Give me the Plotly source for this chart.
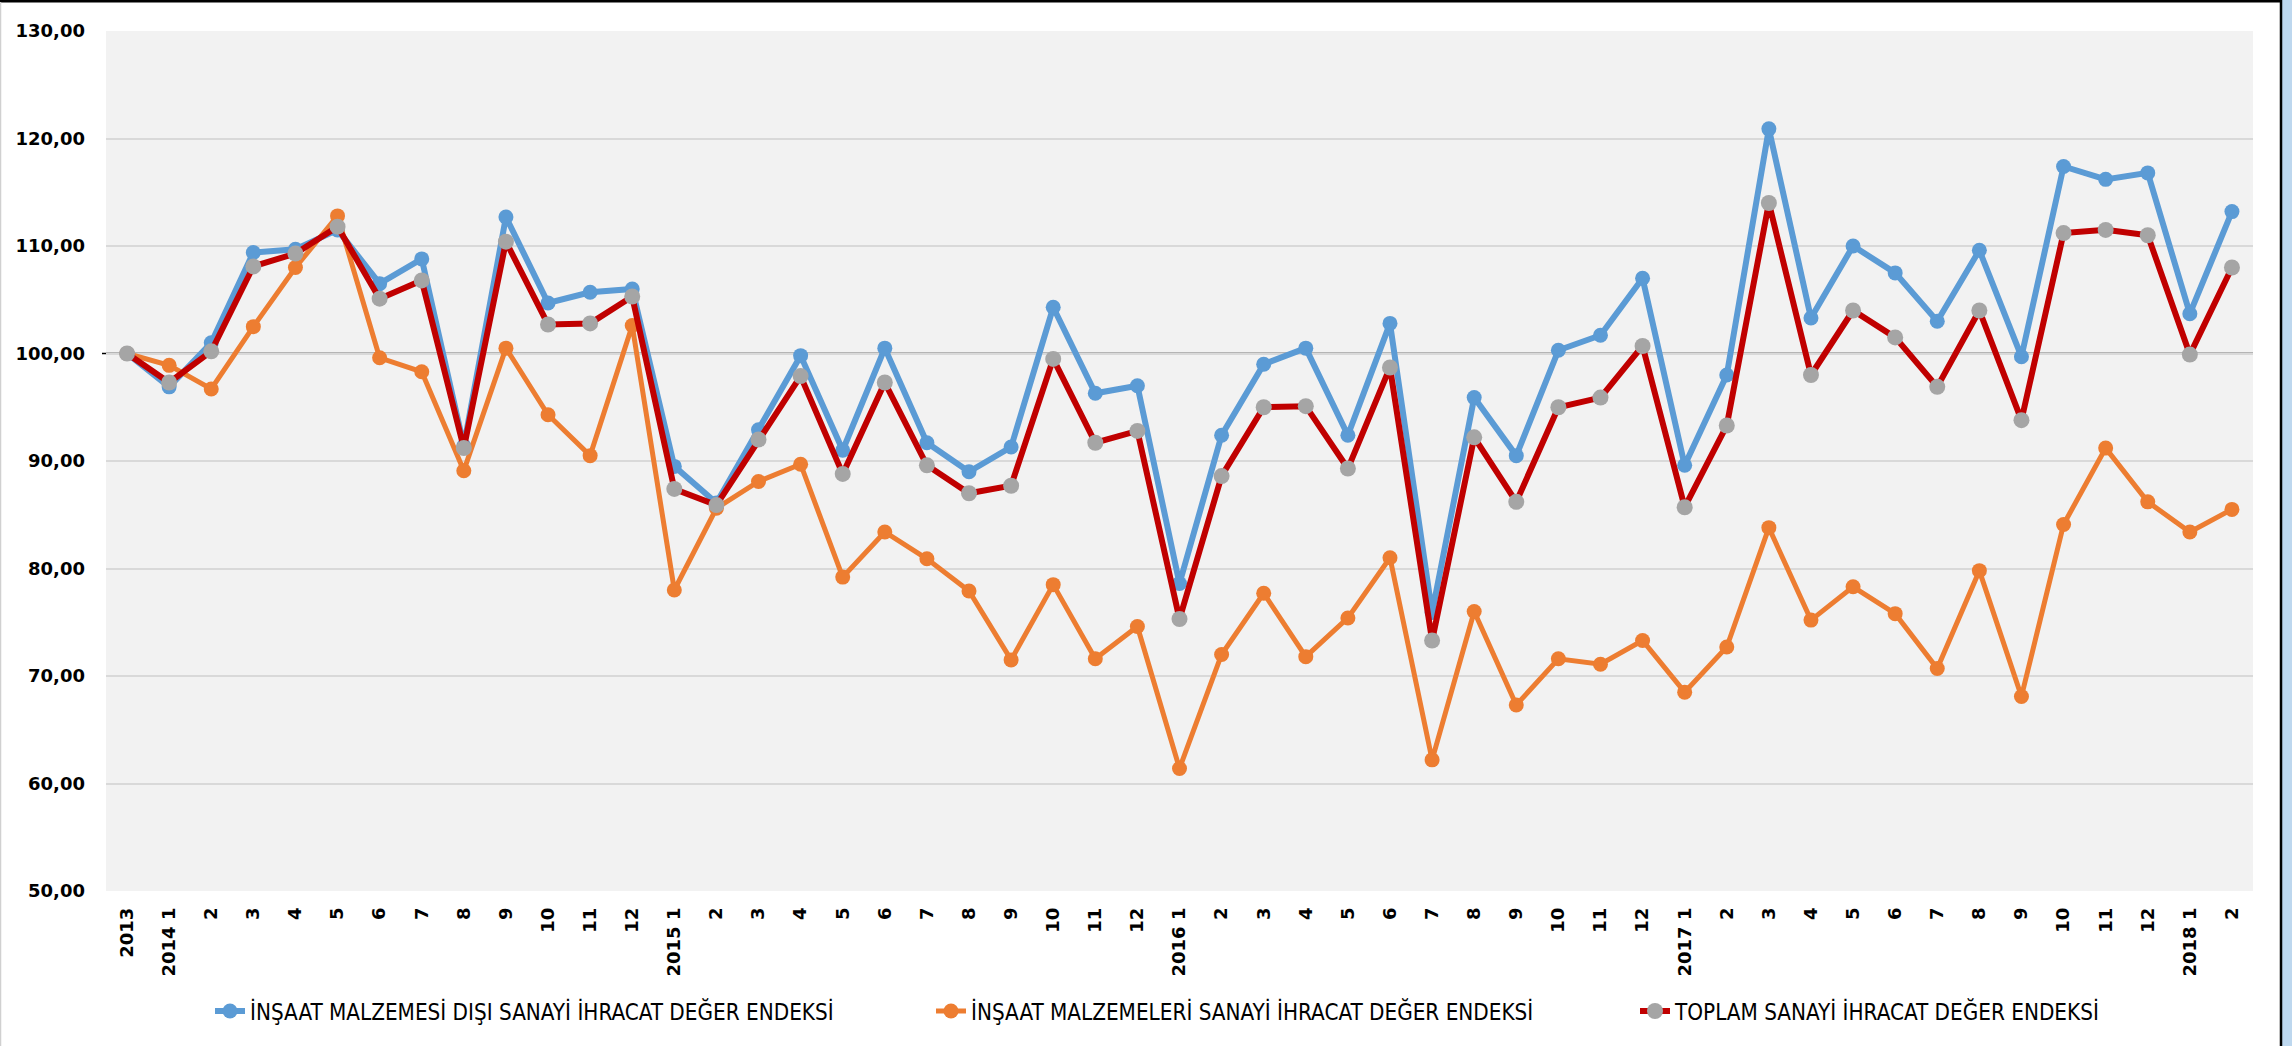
import plotly.graph_objects as go

# ---- data ----
tick_labels = ["2013", "2014 1", "2", "3", "4", "5", "6", "7", "8", "9", "10", "11", "12",
               "2015 1", "2", "3", "4", "5", "6", "7", "8", "9", "10", "11", "12",
               "2016 1", "2", "3", "4", "5", "6", "7", "8", "9", "10", "11", "12",
               "2017 1", "2", "3", "4", "5", "6", "7", "8", "9", "10", "11", "12",
               "2018 1", "2"]

non_construction = [100.0, 96.9, 101.0, 109.4, 109.7, 111.5, 106.5, 108.8, 91.4, 112.7, 104.7, 105.7, 106.0,
                    89.5, 86.1, 92.9, 99.8, 91.0, 100.5, 91.7, 89.0, 91.3, 104.3, 96.3, 97.0,
                    78.6, 92.4, 99.0, 100.5, 92.4, 102.8, 75.9, 95.9, 90.5, 100.3, 101.7, 107.0,
                    89.6, 98.0, 120.9, 103.3, 110.0, 107.5, 103.0, 109.6, 99.7, 117.4, 116.2, 116.8,
                    103.7, 113.2]

construction = [100.0, 98.9, 96.7, 102.5, 108.0, 112.8, 99.6, 98.3, 89.1, 100.5, 94.3, 90.5, 102.6,
                78.0, 85.6, 88.1, 89.7, 79.2, 83.4, 80.9, 77.9, 71.5, 78.5, 71.6, 74.6,
                61.4, 72.0, 77.7, 71.8, 75.4, 81.0, 62.2, 76.0, 67.3, 71.6, 71.1, 73.3,
                68.5, 72.7, 83.8, 75.2, 78.3, 75.8, 70.7, 79.8, 68.1, 84.1, 91.2, 86.2,
                83.4, 85.5]

total = [100.0, 97.3, 100.2, 108.1, 109.3, 111.8, 105.1, 106.8, 91.2, 110.4, 102.7, 102.8, 105.3,
         87.4, 85.9, 92.0, 97.9, 88.8, 97.3, 89.6, 87.0, 87.7, 99.5, 91.7, 92.8,
         75.3, 88.6, 95.0, 95.1, 89.3, 98.7, 73.3, 92.2, 86.2, 95.0, 95.9, 100.7,
         85.7, 93.3, 114.0, 98.0, 104.0, 101.5, 96.9, 104.0, 93.8, 111.2, 111.5, 111.0,
         99.9, 108.0]

series_names = ["İNŞAAT MALZEMESİ DIŞI SANAYİ İHRACAT DEĞER ENDEKSİ",
                "İNŞAAT MALZEMELERİ SANAYİ İHRACAT DEĞER ENDEKSİ",
                "TOPLAM SANAYİ İHRACAT DEĞER ENDEKSİ"]

# ---- layout geometry (pixels) ----
W, H = 2292, 1046
L, R, T, B = 106, 2253, 31, 891
pw, ph = R - L, B - T


def px(x):
    return (x - L) / pw


def py(y):
    return (B - y) / ph


x = list(range(len(tick_labels)))

fig = go.Figure()
fig.add_trace(go.Scatter(x=x, y=non_construction, name=series_names[0], mode="lines+markers",
                         line=dict(color="#5B9BD5", width=6),
                         marker=dict(color="#5B9BD5", size=15), legend="legend"))
fig.add_trace(go.Scatter(x=x, y=construction, name=series_names[1], mode="lines+markers",
                         line=dict(color="#ED7D31", width=5),
                         marker=dict(color="#ED7D31", size=15), legend="legend2"))
fig.add_trace(go.Scatter(x=x, y=total, name=series_names[2], mode="lines+markers",
                         line=dict(color="#C00000", width=6),
                         marker=dict(color="#A5A5A5", size=16), legend="legend3"))

tick_font = dict(family="DejaVu Sans", size=18, color="#000000", weight="bold")
leg_font = dict(family="Liberation Sans Narrow, DejaVu Sans Condensed, Roboto", size=22.3, color="#000000")
leg_common = dict(orientation="h", yanchor="middle", y=py(1011), xanchor="left",
                  bgcolor="rgba(0,0,0,0)", font=leg_font, itemclick=False)

fig.update_layout(
    width=W, height=H,
    margin=dict(l=L, r=W - R, t=T, b=H - B),
    paper_bgcolor="#FFFFFF",
    plot_bgcolor="#F2F2F2",
    separators=",.",
    showlegend=True,
    legend=dict(x=px(210), **leg_common),
    legend2=dict(x=px(931), **leg_common),
    legend3=dict(x=px(1635), **leg_common),
    xaxis=dict(range=[-0.5, len(tick_labels) - 0.5], tickmode="array", tickvals=x,
               ticktext=tick_labels, tickangle=-90, showgrid=False, zeroline=False,
               showline=False, ticks="", tickfont=tick_font, ticklabelstandoff=12),
    yaxis=dict(range=[50, 130], dtick=10, tick0=50, tickformat=".2f", showgrid=True,
               gridcolor="#D9D9D9", gridwidth=2, zeroline=False, showline=False,
               ticks="", tickfont=tick_font, ticklabelstandoff=20),
    shapes=[
        dict(type="line", xref="paper", yref="y", x0=px(102), x1=1, y0=100, y1=100,
             line=dict(color="#000000", width=1.5), layer="between"),
        # outer frame
        dict(type="line", xref="paper", yref="paper", x0=px(0), x1=px(2281), y0=py(1), y1=py(1),
             line=dict(color="#000000", width=3)),
        dict(type="rect", xref="paper", yref="paper", x0=px(2282), x1=px(2293), y0=py(-1), y1=py(1047),
             fillcolor="#BDD7EE", line=dict(width=0)),
        dict(type="line", xref="paper", yref="paper", x0=px(2281), x1=px(2281), y0=py(0), y1=py(1046),
             line=dict(color="#000000", width=2.5)),
        dict(type="line", xref="paper", yref="paper", x0=px(0.5), x1=px(0.5), y0=py(2), y1=py(1046),
             line=dict(color="#D0D0D0", width=1.5)),
    ],
)

fig.write_html("out.html", config={"displayModeBar": False},
               post_script="document.body.style.margin='0';document.body.style.overflow='hidden';")
